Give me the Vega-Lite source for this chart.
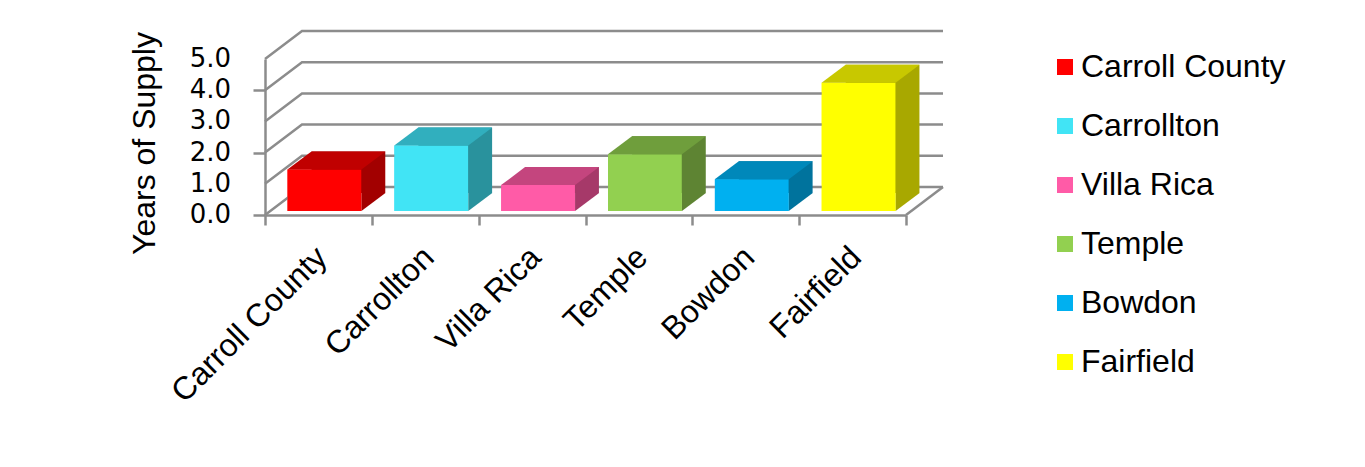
{
  "$schema": "https://vega.github.io/schema/vega-lite/v6.json",
  "width": 641,
  "height": 156,
  "autosize": {"type": "none"},
  "padding": {"left": 265, "top": 59, "right": 459, "bottom": 252},
  "background": "white",
  "config": {"view": {"stroke": null}, "font": "Liberation Sans", "axisY": {"labels": false}},
  "data": {"values": [
    {"city": "Carroll County", "value": 1.33},
    {"city": "Carrollton", "value": 2.1},
    {"city": "Villa Rica", "value": 0.83},
    {"city": "Temple", "value": 1.82},
    {"city": "Bowdon", "value": 1.02},
    {"city": "Fairfield", "value": 4.11}
  ]},
  "resolve": {"scale": {"color": "independent"}},
  "layer": [
    {
      "mark": {"type": "bar", "width": {"band": 0.69}, "xOffset": 6, "yOffset": -4, "y2Offset": -4},
      "encoding": {
        "x": {"field": "city", "type": "nominal",
          "scale": {"domain": ["Carroll County", "Carrollton", "Villa Rica", "Temple", "Bowdon", "Fairfield"], "paddingInner": 0, "paddingOuter": 0},
          "axis": {"title": null, "tickBand": "extent", "labelAngle": -45, "labelAlign": "right", "labelBaseline": "alphabetic",
                   "labelFontSize": 32, "labelFont": "Liberation Sans", "labelColor": "#000000", "labelPadding": 34, "labelOffset": 10, "labelLimit": 0, "labelOverlap": false,
                   "domainColor": "#8c8c8c", "domainWidth": 2.5, "tickColor": "#8c8c8c", "tickWidth": 2.5, "tickSize": 10, "grid": false}},
        "y": {"field": "value", "type": "quantitative",
          "scale": {"domain": [0, 5], "nice": false, "zero": true},
          "axis": {"title": "Years of Supply", "values": [0, 1, 2, 3, 4, 5], "labels": false, "grid": false,
                   "domainColor": "#8c8c8c", "domainWidth": 2.5, "tickColor": "#8c8c8c", "tickWidth": 2.5, "tickSize": 12,
                   "titleFontSize": 32, "titleFont": "Liberation Sans", "titleFontWeight": "normal", "titleColor": "#000000", "titlePadding": 90, "titleY": 84}},
        "color": {"field": "city", "type": "nominal",
          "scale": {"domain": ["Carroll County", "Carrollton", "Villa Rica", "Temple", "Bowdon", "Fairfield"],
                    "range": ["#ff0000", "#41e4f5", "#ff5ba7", "#92d050", "#00b0f0", "#ffff00"]},
          "legend": {"title": null, "orient": "none", "legendX": 784, "legendY": -8, "symbolType": "square", "symbolSize": 256,
                     "symbolStrokeWidth": 0, "symbolOpacity": 1, "labelFontSize": 32, "labelFont": "Liberation Sans", "labelColor": "#000000",
                     "rowPadding": 27, "labelOffset": 0, "labelLimit": 0, "padding": 0}}
      }
    },
    {
      "data": {"values": [{"v": 0}, {"v": 1}, {"v": 2}, {"v": 3}, {"v": 4}, {"v": 5}]},
      "mark": {"type": "point", "shape": "M0,0L37,-28L678,-28", "size": 4, "filled": false, "stroke": "#8c8c8c", "strokeWidth": 2.5, "opacity": 1},
      "encoding": {
        "x": {"datum": "Carroll County", "bandPosition": 0, "type": "nominal"},
        "y": {"field": "v", "type": "quantitative"}
      }
    },
    {
      "data": {"values": [{"v": 0}, {"v": 1}, {"v": 2}, {"v": 3}, {"v": 4}, {"v": 5}]},
      "mark": {"type": "text", "align": "right", "baseline": "middle", "dx": -34, "font": "DejaVu Sans", "fontSize": 26, "color": "#000000"},
      "encoding": {
        "x": {"datum": "Carroll County", "bandPosition": 0, "type": "nominal"},
        "y": {"field": "v", "type": "quantitative"},
        "text": {"field": "v", "type": "quantitative", "format": ".1f"}
      }
    },
    {
      "data": {"values": [{"v": 0}]},
      "mark": {"type": "point", "shape": "M641,0L678,-28", "size": 4, "filled": false, "stroke": "#8c8c8c", "strokeWidth": 2.5, "opacity": 1},
      "encoding": {
        "x": {"datum": "Carroll County", "bandPosition": 0, "type": "nominal"},
        "y": {"field": "v", "type": "quantitative"}
      }
    },
    {
      "mark": {"type": "bar", "width": {"band": 0.69}, "xOffset": 30, "yOffset": -22, "y2Offset": -22},
      "encoding": {
        "x": {"field": "city", "type": "nominal"},
        "y": {"field": "value", "type": "quantitative"},
        "color": {"field": "city", "type": "nominal", "legend": null,
          "scale": {"domain": ["Carroll County", "Carrollton", "Villa Rica", "Temple", "Bowdon", "Fairfield"],
                    "range": ["#a20000", "#29929d", "#a63969", "#5e8433", "#00739d", "#a8a800"]}}
      }
    },
    {
      "mark": {"type": "point", "shape": "M37,0L61,-18L37,-18Z", "size": 4, "filled": true, "opacity": 1, "strokeWidth": 0, "xOffset": 6, "yOffset": -4},
      "encoding": {
        "x": {"field": "city", "type": "nominal"},
        "y": {"datum": 0, "type": "quantitative"},
        "color": {"field": "city", "type": "nominal", "legend": null,
          "scale": {"domain": ["Carroll County", "Carrollton", "Villa Rica", "Temple", "Bowdon", "Fairfield"],
                    "range": ["#a20000", "#29929d", "#a63969", "#5e8433", "#00739d", "#a8a800"]}}
      }
    },
    {
      "mark": {"type": "bar", "width": {"band": 0.69}, "xOffset": 6, "yOffset": -4, "y2Offset": -4},
      "encoding": {
        "x": {"field": "city", "type": "nominal"},
        "y": {"field": "value", "type": "quantitative"},
        "color": {"field": "city", "type": "nominal", "legend": null,
          "scale": {"domain": ["Carroll County", "Carrollton", "Villa Rica", "Temple", "Bowdon", "Fairfield"],
                    "range": ["#ff0000", "#41e4f5", "#ff5ba7", "#92d050", "#00b0f0", "#ffff00"]}}
      }
    },
    {
      "mark": {"type": "point", "shape": "M-37,0L37,0L61,-18L-13,-18Z", "size": 4, "filled": true, "opacity": 1, "strokeWidth": 0, "xOffset": 6, "yOffset": -4},
      "encoding": {
        "x": {"field": "city", "type": "nominal"},
        "y": {"field": "value", "type": "quantitative"},
        "color": {"field": "city", "type": "nominal", "legend": null,
          "scale": {"domain": ["Carroll County", "Carrollton", "Villa Rica", "Temple", "Bowdon", "Fairfield"],
                    "range": ["#c00000", "#31afbe", "#c4457e", "#6f9e3c", "#0088ba", "#c8c800"]}}
      }
    }
  ]
}
